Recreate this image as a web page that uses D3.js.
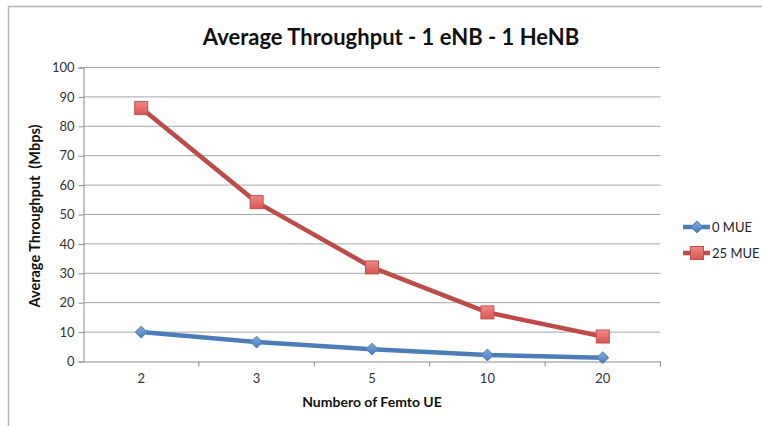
<!DOCTYPE html>
<html>
<head>
<meta charset="utf-8">
<script src="https://cdn.jsdelivr.net/npm/d3@7"></script>
<style>
  body { margin: 0; background: #fff; }
  text { font-family: Lato, "Open Sans", sans-serif; }
</style>
</head>
<body>
<div id="chart"></div>
<script>
var categories = ["2", "3", "5", "10", "20"];
var mue0 = [10, 6.6, 4.2, 2.2, 1.3];
var mue25 = [86.2, 54.2, 32, 16.7, 8.5];
var yTicks = [0, 10, 20, 30, 40, 50, 60, 70, 80, 90, 100];

var cfg = {
  width: 762,
  height: 426,
  left: 83.5,
  right: 660.5,
  top: 67.5,
  bottom: 361.5
};

var series = [
  { name: "0 MUE", values: mue0, color: "#4a7ebb", marker: "diamond" },
  { name: "25 MUE", values: mue25, color: "#be4b48", marker: "square" }
];

var svg = d3.select("#chart").append("svg")
    .attr("width", cfg.width)
    .attr("height", cfg.height);

// outer frame
svg.append("rect")
    .attr("x", 8.5).attr("y", 6.5)
    .attr("width", 800).attr("height", 500)
    .style("fill", "#fff")
    .style("stroke", "#b8b8b8")
    .style("stroke-width", 1.5);

var x = d3.scaleBand().domain(categories).range([cfg.left, cfg.right]);
var y = d3.scaleLinear().domain([0, 100]).range([cfg.bottom, cfg.top]);

// gridlines
svg.append("g")
    .selectAll("line").data(yTicks.slice(1)).enter()
    .append("line")
    .attr("x1", cfg.left).attr("x2", cfg.right)
    .attr("y1", function(d) { return y(d); })
    .attr("y2", function(d) { return y(d); })
    .style("stroke", "#a6a6a6")
    .style("stroke-width", 1);

// y axis
var yAxis = svg.append("g")
    .attr("transform", "translate(" + cfg.left + ",0)")
    .call(d3.axisLeft(y).tickValues(yTicks).tickSize(5).tickPadding(4));
yAxis.select(".domain").style("stroke", "#8c8c8c");
yAxis.selectAll(".tick line").style("stroke", "#8c8c8c");
yAxis.selectAll("text").style("font-size", "13px").style("fill", "#333")
    .style("font-family", "Lato, 'Open Sans', sans-serif");

// x axis
var xAxis = svg.append("g")
    .attr("transform", "translate(0," + cfg.bottom + ")")
    .call(d3.axisBottom(x).tickSize(0).tickPadding(12));
xAxis.select(".domain").style("stroke", "#8c8c8c");
xAxis.selectAll("text").style("font-size", "13px").style("fill", "#333")
    .style("font-family", "Lato, 'Open Sans', sans-serif");

// boundary ticks between categories
svg.append("g")
    .selectAll("line").data(categories.slice(1).concat(["end"])).enter()
    .append("line")
    .attr("x1", function(d) { return d === "end" ? cfg.right : x(d); })
    .attr("x2", function(d) { return d === "end" ? cfg.right : x(d); })
    .attr("y1", cfg.bottom).attr("y2", cfg.bottom + 5)
    .style("stroke", "#8c8c8c");

var cx = function(d, i) { return x(categories[i]) + x.bandwidth() / 2; };

var line = d3.line()
    .x(cx)
    .y(function(d) { return y(d); });

var defs = svg.append("defs");
var grad = defs.append("linearGradient").attr("id", "redFill")
    .attr("x1", 0).attr("y1", 0).attr("x2", 0).attr("y2", 1);
grad.append("stop").attr("offset", "0%").attr("stop-color", "#f08a87");
grad.append("stop").attr("offset", "100%").attr("stop-color", "#d9534f");
var gradB = defs.append("linearGradient").attr("id", "blueFill")
    .attr("x1", 0).attr("y1", 0).attr("x2", 0).attr("y2", 1);
gradB.append("stop").attr("offset", "0%").attr("stop-color", "#7fa9e0");
gradB.append("stop").attr("offset", "100%").attr("stop-color", "#4a7ebb");

function drawMarker(g, type, px, py) {
  if (type === "square") {
    g.append("rect")
        .attr("x", px - 6.5).attr("y", py - 6.5)
        .attr("width", 13).attr("height", 13)
        .style("fill", "url(#redFill)")
        .style("stroke", "#c0504d")
        .style("stroke-width", 1);
  } else {
    g.append("path")
        .attr("d", d3.symbol().type(d3.symbolDiamond2).size(90)())
        .attr("transform", "translate(" + px + "," + py + ")")
        .style("fill", "url(#blueFill)")
        .style("stroke", "#4a7ebb")
        .style("stroke-width", 1);
  }
}

series.forEach(function(s) {
  svg.append("path")
      .datum(s.values)
      .attr("d", line)
      .style("fill", "none")
      .style("stroke", s.color)
      .style("stroke-width", 4.5)
      .style("stroke-linejoin", "round");
  var g = svg.append("g");
  s.values.forEach(function(v, i) {
    drawMarker(g, s.marker, cx(v, i), y(v));
  });
});

// legend
var legend = svg.append("g");
series.forEach(function(s, i) {
  var ly = 227 + i * 26;
  legend.append("line")
      .attr("x1", 683).attr("x2", 710)
      .attr("y1", ly).attr("y2", ly)
      .style("stroke", s.color)
      .style("stroke-width", 4.5);
  drawMarker(legend, s.marker, 697, ly);
  legend.append("text")
      .attr("x", 712).attr("y", ly + 4.5)
      .text(s.name)
      .style("font-size", "13px")
      .style("fill", "#222");
});

// titles
svg.append("text")
    .attr("x", 391).attr("y", 45)
    .attr("text-anchor", "middle")
    .text("Average Throughput - 1 eNB - 1 HeNB")
    .style("font-size", "22px")
    .style("font-weight", "bold")
    .style("fill", "#111");

svg.append("text")
    .attr("x", 372).attr("y", 407)
    .attr("text-anchor", "middle")
    .text("Numbero of Femto UE")
    .style("font-size", "14px")
    .style("font-weight", "bold")
    .style("fill", "#111");

svg.append("text")
    .attr("transform", "translate(40,216) rotate(-90)")
    .attr("text-anchor", "middle")
    .text("Average Throughput  (Mbps)")
    .style("font-size", "14.5px")
    .style("font-weight", "bold")
    .style("white-space", "pre")
    .style("fill", "#111");
</script>
</body>
</html>
